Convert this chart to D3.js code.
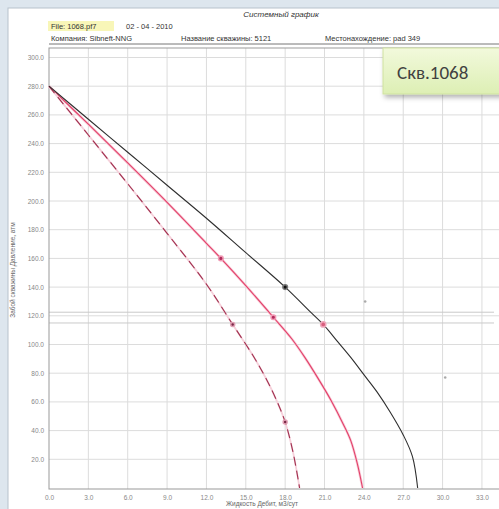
<!DOCTYPE html>
<html>
<head>
<meta charset="utf-8">
<script src="https://cdn.jsdelivr.net/npm/d3@7"></script>
<style>
  body { margin: 0; background: #dde6ee; }
  text { font-family: "Liberation Sans", Arial, sans-serif; }
</style>
</head>
<body>
<script>
// data
const xTicks = [0, 3, 6, 9, 12, 15, 18, 21, 24, 27, 30, 33];
const yTicks = [20, 40, 60, 80, 100, 120, 140, 160, 180, 200, 220, 240, 260, 280, 300];

const blackCurve = [[0,280],[3,257],[6,234],[9,211],[12,188],[15,164],[18,140],[20,122],[21,113],[22,102],[23,91],[24,79],[25,67],[26,53],[27,37],[27.7,22],[28.1,0]];
const pinkCurve = [[0,280],[3,253.5],[6,226.5],[9,199],[12,170.5],[13.1,160],[15,141],[17.1,119],[18.5,104],[19.5,91],[20.6,75],[21.5,61],[22.4,45],[23,33],[23.5,17],[23.9,0]];
const dashCurve = [[0,280],[3,246],[6,212],[9,177.5],[12,142],[14,114],[15.5,93],[16.5,77],[17.3,62],[18,46],[18.6,25],[19.1,0]];

const blackDots = [[18,140]];
const pinkDots = [[13.1,160],[17.1,119]];
const dashDots = [[14,114],[18,46]];
const ringDots = [[20.9,114]];
const greyDots = [[24.1,130],[30.2,77]];
const refLines = [122.5, 115];

const W = 499, H = 509;
const svg = d3.select('body').append('svg')
    .attr('width', W).attr('height', H);

// panel
svg.append('rect').attr('x', 8).attr('y', 8).attr('width', W).attr('height', H)
    .attr('fill', '#fff').attr('stroke', '#b8c2cc');

const x = d3.scaleLinear().domain([0, 34.3]).range([49, 499]);
const y = d3.scaleLinear().domain([0, 300]).range([488, 57.5]);

// header
svg.append('text').attr('x', 281).attr('y', 17).attr('text-anchor', 'middle')
    .attr('font-size', 8).attr('font-style', 'italic').attr('fill', '#333').text('Системный график');
svg.append('rect').attr('x', 48).attr('y', 21).attr('width', 66).attr('height', 10).attr('fill', '#f8f6b8');
svg.append('text').attr('x', 51).attr('y', 29).attr('font-size', 7.5).attr('fill', '#333').text('File: 1068.pf7');
svg.append('text').attr('x', 126).attr('y', 29).attr('font-size', 7.5).attr('fill', '#333').text('02 - 04 - 2010');
const hdr = [[51, 'Компания: Sibneft-NNG'], [181, 'Название скважины: 5121'], [325, 'Местонахождение: pad 349']];
svg.selectAll('.hdr').data(hdr).enter().append('text')
    .attr('x', d => d[0]).attr('y', 41).attr('font-size', 7.5).attr('fill', '#333').text(d => d[1]);
svg.append('line').attr('x1', 49).attr('x2', 499).attr('y1', 44).attr('y2', 44).attr('stroke', '#777');

// grid
const grid = svg.append('g');
grid.selectAll('.gx').data(xTicks.slice(1)).enter().append('line')
    .attr('x1', d => x(d)).attr('x2', d => x(d)).attr('y1', 48).attr('y2', 489)
    .attr('stroke', '#dcdcdc');
grid.selectAll('.gy').data(yTicks).enter().append('line')
    .attr('x1', 49).attr('x2', 499).attr('y1', d => y(d)).attr('y2', d => y(d))
    .attr('stroke', '#dcdcdc');
grid.selectAll('.ref').data(refLines).enter().append('line')
    .attr('x1', 49).attr('x2', 494).attr('y1', d => y(d)).attr('y2', d => y(d))
    .attr('stroke', '#cacaca');
svg.append('rect').attr('x', 49).attr('y', 48).attr('width', 460).attr('height', 441)
    .attr('fill', 'none').attr('stroke', '#999');

// axes
const yAxis = svg.append('g').attr('transform', 'translate(49,0)')
    .call(d3.axisLeft(y).tickValues(yTicks).tickFormat(d3.format('.1f')).tickSize(0).tickPadding(5));
const xAxis = svg.append('g').attr('transform', 'translate(0,489)')
    .call(d3.axisBottom(x).tickValues(xTicks).tickFormat(d3.format('.1f')).tickSize(0).tickPadding(6));
[yAxis, xAxis].forEach(a => {
    a.select('.domain').remove();
    a.selectAll('text').attr('font-size', 6.5).attr('fill', '#888')
        .style('font-family', '"Liberation Sans", Arial, sans-serif');
});

svg.append('text').attr('transform', 'translate(15,270) rotate(-90)').attr('text-anchor', 'middle')
    .attr('font-size', 6.5).attr('fill', '#666').text('Забой скважины Давление, атм');
svg.append('text').attr('x', 262).attr('y', 506).attr('text-anchor', 'middle')
    .attr('font-size', 6.5).attr('fill', '#666').text('Жидкость Дебит, м3/сут');

// curves
const line = d3.line().x(d => x(d[0])).y(d => y(d[1])).curve(d3.curveCatmullRom.alpha(0.5));
const plot = svg.append('g');
plot.append('path').datum(pinkCurve).attr('d', line).attr('fill', 'none')
    .attr('stroke', '#f8cdd8').attr('stroke-width', 2.6);
plot.append('path').datum(pinkCurve).attr('d', line).attr('fill', 'none')
    .attr('stroke', '#e2406a').attr('stroke-width', 1.1);
plot.append('path').datum(dashCurve).attr('d', line).attr('fill', 'none')
    .attr('stroke', '#f5d0da').attr('stroke-width', 1.8);
plot.append('path').datum(dashCurve).attr('d', line).attr('fill', 'none')
    .attr('stroke', '#a0304f').attr('stroke-width', 1.1).attr('stroke-dasharray', '9,5');
plot.append('path').datum(blackCurve).attr('d', line).attr('fill', 'none')
    .attr('stroke', '#2e2e2e').attr('stroke-width', 1.1);

const dots = (data, r, fill, stroke) => plot.selectAll(null).data(data).enter().append('circle')
    .attr('cx', d => x(d[0])).attr('cy', d => y(d[1])).attr('r', r)
    .attr('fill', fill).attr('stroke', stroke).attr('stroke-width', 1.5);
dots(greyDots, 1.3, '#aaa', 'none');
dots(pinkDots, 2.3, '#b02a5a', '#f09ab4');
dots(dashDots, 2, '#7a2846', '#e0a0b4');
dots(ringDots, 2.6, '#d8607e', '#f0a8bc');
dots(blackDots, 2.3, '#111', '#777');

// callout
const defs = svg.append('defs');
const grad = defs.append('linearGradient').attr('id', 'g1').attr('x1', 0).attr('y1', 0).attr('x2', 0).attr('y2', 1);
grad.append('stop').attr('offset', '0%').attr('stop-color', '#f2f9dc');
grad.append('stop').attr('offset', '100%').attr('stop-color', '#ddefb4');
const f = defs.append('filter').attr('id', 'sh').attr('x', '-20%').attr('y', '-20%').attr('width', '150%').attr('height', '160%');
f.append('feDropShadow').attr('dx', 2).attr('dy', 3).attr('stdDeviation', 2.5).attr('flood-color', '#000').attr('flood-opacity', 0.3);
svg.append('rect').attr('x', 383).attr('y', 48).attr('width', 130).attr('height', 46)
    .attr('fill', 'url(#g1)').attr('stroke', '#cfe2a0').attr('filter', 'url(#sh)');
svg.append('text').attr('x', 397).attr('y', 79).attr('font-size', 19).attr('fill', '#404040')
    .style('font-family', 'Calibri, "Open Sans", "Noto Sans", sans-serif').text('Скв.1068');
</script>
</body>
</html>
